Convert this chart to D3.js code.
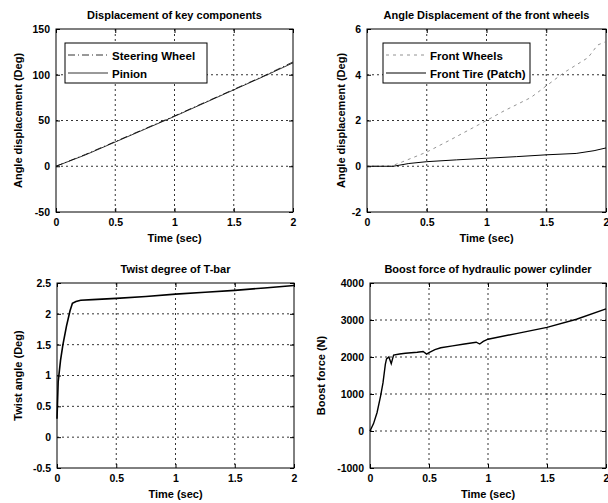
<!DOCTYPE html>
<meta charset="utf-8">
<script src="https://d3js.org/d3.v7.min.js"></script>
<style>
body { margin:0; background:#fff; }
svg { display:block; font-family:"Liberation Sans", Arial, sans-serif; }
.grid line { stroke:#000; stroke-width:0.8; stroke-dasharray:2,3; }
.tick text { font-size:10.5px; font-weight:bold; fill:#000; }
.ttl { font-size:11px; fill:#000; font-weight:bold; }
.lbl { font-size:11px; fill:#000; font-weight:bold; }
.leg { font-size:11.5px; fill:#000; font-weight:bold; }
</style>
<body></body>
<script>
// time axis ticks shared by all four panels
var timeTicks = [0, 0.5, 1, 1.5, 2];

// panel 1: displacement of key components (deg)
var steerT = [0, 0.25, 0.5, 0.75, 1, 1.25, 1.5, 1.75, 2];
var steerV = [0, 13, 27, 41, 55, 69.5, 84, 98.5, 114];
var pinionT = [0, 0.25, 0.5, 0.75, 1, 1.25, 1.5, 1.75, 2];
var pinionV = [0, 12.5, 26.5, 40.5, 54.5, 69, 83.5, 98, 113];
var yTicks1 = [-50, 0, 50, 100, 150];

// panel 2: angle displacement of the front wheels (deg)
var wheelT = [0, 0.2, 0.3, 0.5, 0.7, 1, 1.15, 1.37, 1.65, 1.85, 1.93, 2];
var wheelV = [0, 0, 0.2, 0.62, 1.16, 2.0, 2.43, 3.0, 4.1, 4.75, 5.3, 5.45];
var tireT = [0, 0.22, 0.35, 0.5, 0.75, 1, 1.25, 1.5, 1.75, 1.9, 2];
var tireV = [0, 0, 0.12, 0.2, 0.28, 0.35, 0.42, 0.5, 0.56, 0.68, 0.8];
var yTicks2 = [-2, 0, 2, 4, 6];

// panel 3: twist degree of T-bar (deg)
var twistT = [0, 0.005, 0.01, 0.03, 0.05, 0.08, 0.11, 0.13, 0.16, 0.2, 0.3, 0.5, 0.75, 1, 1.25, 1.5, 1.75, 2];
var twistV = [0.3, 0.6, 0.9, 1.25, 1.5, 1.8, 2.05, 2.17, 2.2, 2.22, 2.23, 2.25, 2.28, 2.32, 2.35, 2.38, 2.42, 2.46];
var yTicks3 = [-0.5, 0, 0.5, 1, 1.5, 2, 2.5];

// panel 4: boost force of hydraulic power cylinder (N)
var boostT = [0, 0.03, 0.06, 0.09, 0.11, 0.13, 0.14, 0.16, 0.18, 0.2, 0.25, 0.3, 0.4, 0.45, 0.48, 0.5, 0.55, 0.6, 0.7, 0.8, 0.9, 0.93, 0.96, 1, 1.25, 1.5, 1.75, 2];
var boostV = [0, 200, 500, 950, 1300, 1800, 1950, 2000, 1820, 2050, 2080, 2100, 2130, 2150, 2080, 2120, 2200, 2250, 2300, 2350, 2400, 2350, 2420, 2480, 2640, 2800, 3020, 3300];
var yTicks4 = [-1000, 0, 1000, 2000, 3000, 4000];

var svg = d3.select("body").append("svg").attr("width", 608).attr("height", 503);

function zip(t, v) { return t.map(function(d, i) { return [d, v[i]]; }); }
function fmt(d) { return String(d); }   // plain hyphen minus, like the original

function panel(p) {
  var x = d3.scaleLinear().domain([0, 2]).range([p.x0, p.x1]);
  var y = d3.scaleLinear().domain(p.dom).range([p.y1, p.y0]);
  var g = svg.append("g");

  // grid
  var grid = g.append("g").attr("class", "grid");
  grid.selectAll(".gx").data(timeTicks.slice(1, -1)).enter().append("line")
    .attr("x1", x).attr("x2", x).attr("y1", p.y0).attr("y2", p.y1);
  grid.selectAll(".gy").data(p.ticks.slice(1, -1)).enter().append("line")
    .attr("y1", y).attr("y2", y).attr("x1", p.x0).attr("x2", p.x1);

  // axes with inward ticks
  function clean(a) { a.select(".domain").remove(); a.selectAll("line").attr("stroke", "#000"); }
  g.append("g").attr("transform", "translate(0," + p.y1 + ")")
    .call(d3.axisBottom(x).tickValues(timeTicks).tickSizeInner(-4).tickSizeOuter(0).tickPadding(7).tickFormat(fmt))
    .call(clean);
  g.append("g").attr("transform", "translate(" + p.x0 + ",0)")
    .call(d3.axisLeft(y).tickValues(p.ticks).tickSizeInner(-4).tickSizeOuter(0).tickPadding(6).tickFormat(fmt))
    .call(clean);
  g.append("g").attr("transform", "translate(0," + p.y0 + ")")
    .call(d3.axisTop(x).tickValues(timeTicks).tickSizeInner(-4).tickSizeOuter(0).tickFormat(""))
    .call(clean);
  g.append("g").attr("transform", "translate(" + p.x1 + ",0)")
    .call(d3.axisRight(y).tickValues(p.ticks).tickSizeInner(-4).tickSizeOuter(0).tickFormat(""))
    .call(clean);

  g.append("rect").attr("x", p.x0).attr("y", p.y0)
    .attr("width", p.x1 - p.x0).attr("height", p.y1 - p.y0)
    .attr("fill", "none").attr("stroke", "#000").attr("stroke-width", 1);

  var line = d3.line().x(function(d) { return x(d[0]); }).y(function(d) { return y(d[1]); });
  p.series.forEach(function(s) {
    g.append("path").datum(zip(s.t, s.v)).attr("d", line)
      .attr("fill", "none").attr("stroke", s.color).attr("stroke-width", s.w)
      .attr("stroke-dasharray", s.dash);
  });

  // title and labels
  g.append("text").attr("class", "ttl").attr("x", (p.x0 + p.x1) / 2).attr("y", p.y0 - 10)
    .attr("text-anchor", "middle").text(p.title);
  g.append("text").attr("class", "lbl").attr("x", (p.x0 + p.x1) / 2).attr("y", p.y1 + 30)
    .attr("text-anchor", "middle").text("Time (sec)");
  g.append("text").attr("class", "lbl")
    .attr("transform", "translate(" + p.ylx + "," + (p.y0 + p.y1) / 2 + ") rotate(-90)")
    .attr("text-anchor", "middle").text(p.ylabel);

  if (p.legend) {
    var L = p.legend;
    var lg = g.append("g");
    lg.append("rect").attr("x", L.x).attr("y", L.y).attr("width", L.w).attr("height", 40)
      .attr("fill", "#fff").attr("stroke", "#000");
    p.series.forEach(function(s, i) {
      var yy = L.y + 12 + i * 18;
      lg.append("line").attr("x1", L.x + 3).attr("x2", L.x + 43).attr("y1", yy).attr("y2", yy)
        .attr("stroke", s.color).attr("stroke-width", s.w).attr("stroke-dasharray", s.dash);
      lg.append("text").attr("class", "leg").attr("x", L.x + 47).attr("y", yy + 4.5).text(s.name);
    });
  }
}

panel({
  x0: 56, x1: 293, y0: 29, y1: 212, dom: [-50, 150], ticks: yTicks1, ylx: 22,
  title: "Displacement of key components", ylabel: "Angle displacement (Deg)",
  series: [
    { name: "Steering Wheel", t: steerT, v: steerV, color: "#333", w: 1, dash: "7,3,1,3" },
    { name: "Pinion", t: pinionT, v: pinionV, color: "#000", w: 0.8, dash: null }
  ],
  legend: { x: 65, y: 43, w: 142 }
});

panel({
  x0: 367, x1: 606, y0: 29, y1: 212, dom: [-2, 6], ticks: yTicks2, ylx: 345,
  title: "Angle Displacement of the front wheels", ylabel: "Angle displacement (Deg)",
  series: [
    { name: "Front Wheels", t: wheelT, v: wheelV, color: "#777", w: 0.8, dash: "3,4" },
    { name: "Front Tire (Patch)", t: tireT, v: tireV, color: "#000", w: 1, dash: null }
  ],
  legend: { x: 383, y: 43, w: 147 }
});

panel({
  x0: 57, x1: 294, y0: 283, y1: 468, dom: [-0.5, 2.5], ticks: yTicks3, ylx: 22,
  title: "Twist degree of T-bar", ylabel: "Twist angle (Deg)",
  series: [
    { name: "T-bar", t: twistT, v: twistV, color: "#000", w: 1.6, dash: null }
  ]
});

panel({
  x0: 370, x1: 606, y0: 283, y1: 468, dom: [-1000, 4000], ticks: yTicks4, ylx: 325,
  title: "Boost force of hydraulic power cylinder", ylabel: "Boost force (N)",
  series: [
    { name: "Boost", t: boostT, v: boostV, color: "#000", w: 1.4, dash: null }
  ]
});
</script>
